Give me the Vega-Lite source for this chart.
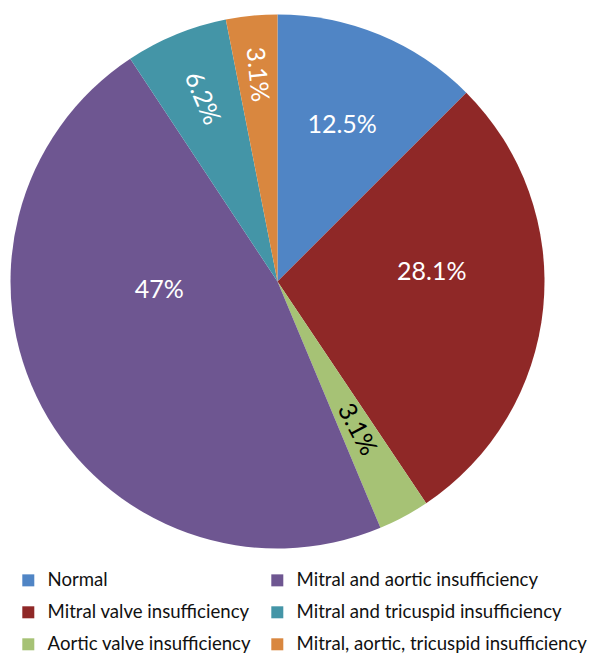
{
  "$schema": "https://vega.github.io/schema/vega-lite/v6.json",
  "width": 555,
  "height": 563,
  "padding": 0,
  "background": "white",
  "config": {"view": {"stroke": null}, "font": "Lato"},
  "data": {
    "values": [
      {"category": "Normal", "value": 12.5, "label": "12.5%", "order": 1},
      {"category": "Mitral valve insufficiency", "value": 28.1, "label": "28.1%", "order": 2},
      {"category": "Aortic valve insufficiency", "value": 3.1, "label": "3.1%", "order": 3},
      {"category": "Mitral and aortic insufficiency", "value": 47, "label": "47%", "order": 4},
      {"category": "Mitral and tricuspid insufficiency", "value": 6.2, "label": "6.2%", "order": 5},
      {"category": "Mitral, aortic, tricuspid insufficiency", "value": 3.1, "label": "3.1%", "order": 6}
    ]
  },
  "encoding": {
    "theta": {"field": "value", "type": "quantitative", "stack": true},
    "order": {"field": "order", "type": "quantitative"}
  },
  "layer": [
    {
      "mark": {"type": "arc", "radius": 267},
      "encoding": {
        "color": {
          "field": "category",
          "type": "nominal",
          "scale": {
            "domain": ["Normal", "Mitral and aortic insufficiency", "Mitral valve insufficiency", "Mitral and tricuspid insufficiency", "Aortic valve insufficiency", "Mitral, aortic, tricuspid insufficiency"],
            "range": ["#5085C5", "#6E5691", "#8F2827", "#4495A7", "#A6C275", "#D9873F"]
          },
          "legend": {
            "title": null,
            "orient": "none",
            "legendX": 19,
            "legendY": 571,
            "direction": "horizontal",
            "columns": 2,
            "symbolType": "square",
            "symbolSize": 144,
            "symbolStrokeWidth": 0,
            "labelFont": "Lato",
            "labelFontSize": 18.6,
            "labelColor": "#111111",
            "labelOffset": 10,
            "labelLimit": 400,
            "rowPadding": 13,
            "columnPadding": 16,
            "padding": 0
          }
        }
      }
    },
    {
      "mark": {"type": "text", "radius": 169, "fontSize": 25, "color": "white", "align": "center", "baseline": "middle"},
      "encoding": {"text": {"condition": {"test": "datum.order == 1", "field": "label"}, "value": ""}}
    },
    {
      "mark": {"type": "text", "radius": 150, "dx": 5, "dy": -24, "fontSize": 25, "color": "white", "align": "center", "baseline": "middle"},
      "encoding": {"text": {"condition": {"test": "datum.order == 2", "field": "label"}, "value": ""}}
    },
    {
      "mark": {"type": "text", "radius": 168, "fontSize": 25, "color": "black", "angle": 62, "align": "center", "baseline": "middle"},
      "encoding": {"text": {"condition": {"test": "datum.order == 3", "field": "label"}, "value": ""}}
    },
    {
      "mark": {"type": "text", "radius": 118, "dx": -14, "dy": -47, "fontSize": 25, "color": "white", "align": "center", "baseline": "middle"},
      "encoding": {"text": {"condition": {"test": "datum.order == 4", "field": "label"}, "value": ""}}
    },
    {
      "mark": {"type": "text", "radius": 198, "fontSize": 25, "color": "white", "angle": 67, "align": "center", "baseline": "middle"},
      "encoding": {"text": {"condition": {"test": "datum.order == 5", "field": "label"}, "value": ""}}
    },
    {
      "mark": {"type": "text", "radius": 208, "fontSize": 25, "color": "white", "angle": 84, "align": "center", "baseline": "middle"},
      "encoding": {"text": {"condition": {"test": "datum.order == 6", "field": "label"}, "value": ""}}
    }
  ]
}
